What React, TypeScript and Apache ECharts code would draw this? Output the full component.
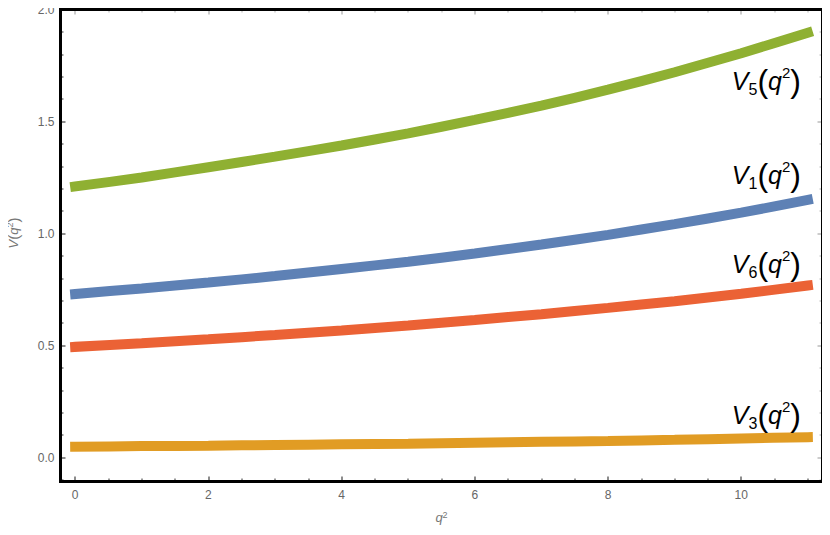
import React, { useEffect, useRef } from "react";
import * as echarts from "echarts";

const xs = [0, 1, 2, 3, 4, 5, 6, 7, 8, 9, 10, 11];
const v5 = [1.21, 1.25, 1.296, 1.343, 1.393, 1.447, 1.507, 1.571, 1.642, 1.72, 1.805, 1.896];
const v1 = [0.73, 0.755, 0.781, 0.81, 0.842, 0.874, 0.911, 0.951, 0.994, 1.042, 1.093, 1.15];
const v6 = [0.494, 0.51, 0.528, 0.547, 0.567, 0.589, 0.614, 0.64, 0.668, 0.698, 0.731, 0.768];
const v3 = [0.048, 0.051, 0.053, 0.056, 0.059, 0.062, 0.066, 0.07, 0.074, 0.079, 0.085, 0.091];

const seriesNames = ["V5", "V1", "V6", "V3"];
const seriesIdx = ["5", "1", "6", "3"];
const seriesColors = ["#8FB032", "#5E81B5", "#EB6235", "#E19C24"];
const seriesValues = [v5, v1, v6, v3];
const labelY = [81, 175, 264, 415];

const majorX = [0, 2, 4, 6, 8, 10];
const minorX = [0.5, 1, 1.5, 2.5, 3, 3.5, 4.5, 5, 5.5, 6.5, 7, 7.5, 8.5, 9, 9.5, 10.5, 11];
const majorY = [0, 0.5, 1, 1.5, 2];
const minorY = [-0.1, 0.1, 0.2, 0.3, 0.4, 0.6, 0.7, 0.8, 0.9, 1.1, 1.2, 1.3, 1.4, 1.6, 1.7, 1.8, 1.9];

const X_MIN = -0.22;
const X_MAX = 11.22;
const Y_MIN = -0.107;
const Y_MAX = 2.0;

const FONT = "'Liberation Sans', Arial, sans-serif";
const GRID = { left: 60.5, right: 7.5, top: 9.5, bottom: 53.5 };

function axis(kind: "x" | "y", position: string, ticks: number[], len: number, tickColor: string, labels: number[] | null, extra: any = {}) {
  const a: any = {
    type: "value",
    position,
    min: kind === "x" ? X_MIN : Y_MIN,
    max: kind === "x" ? X_MAX : Y_MAX,
    axisLine: { show: false, onZero: false },
    axisTick: { show: true, inside: true, length: len, customValues: ticks, lineStyle: { color: tickColor, width: 1.5 } },
    axisLabel: labels
      ? {
          show: true,
          customValues: labels,
          color: "#666",
          fontSize: 12,
          fontFamily: FONT,
          margin: kind === "x" ? 7 : 6,
          formatter: (v: number) => (kind === "y" ? v.toFixed(1) : String(v)),
        }
      : { show: false },
    splitLine: { show: false },
    minorTick: { show: false },
    ...extra,
  };
  return a;
}

export default function App() {
  const ref = useRef<HTMLDivElement>(null);
  useEffect(() => {
    if (!ref.current) return;
    const chart = echarts.init(ref.current, undefined, { renderer: "svg" });
    const nameRich = {
      i: { fontStyle: "italic", fontSize: 13, color: "#777", fill: "#777", fontFamily: FONT },
      n: { fontSize: 15, color: "#777", fill: "#777", fontFamily: FONT },
      s: { fontSize: 9, verticalAlign: "top", color: "#777", fill: "#777", fontFamily: FONT },
    };
    const labelRich = {
      v: { fontStyle: "italic", fontSize: 25, fill: "#000", fontFamily: FONT },
      s: { fontSize: 16, verticalAlign: "bottom", fill: "#000", fontFamily: FONT },
      p: { fontSize: 32, fill: "#000", fontFamily: FONT },
      u: { fontSize: 15, verticalAlign: "top", fill: "#000", fontFamily: FONT },
    };
    const W = 830;
    const H = 535;
    chart.setOption({
      animation: false,
      backgroundColor: "#fff",
      grid: { ...GRID },
      xAxis: [
        axis("x", "bottom", majorX, 5, "#666", majorX, {
          name: "{i|q}{s|2}",
          nameLocation: "middle",
          nameGap: 29,
          nameTextStyle: { rich: nameRich },
        }),
        axis("x", "bottom", minorX, 3, "#777", null),
        axis("x", "top", majorX, 5, "#bbb", null),
        axis("x", "top", minorX, 3, "#ccc", null),
      ],
      yAxis: [
        axis("y", "left", majorY, 5, "#666", majorY),
        axis("y", "left", minorY, 3, "#777", null),
        axis("y", "right", majorY, 5, "#bbb", null),
        axis("y", "right", minorY, 3, "#ccc", null),
      ],
      series: seriesValues.map((vals, k) => ({
        name: seriesNames[k],
        type: "line",
        xAxisIndex: 0,
        yAxisIndex: 0,
        showSymbol: false,
        smooth: 0.2,
        data: xs.map((x, i) => [x, vals[i]]),
        lineStyle: { color: seriesColors[k], width: 10, cap: "square" },
        itemStyle: { color: seriesColors[k] },
        z: 2,
      })),
      graphic: [
        {
          type: "rect",
          z: 100,
          silent: true,
          shape: { x: GRID.left, y: GRID.top, width: W - GRID.left - GRID.right, height: H - GRID.top - GRID.bottom },
          style: { fill: "none", stroke: "#000", lineWidth: 3 },
        },
        {
          type: "text",
          x: 13,
          y: 233,
          rotation: Math.PI / 2,
          z: 10,
          style: {
            text: "{i|V}{n|(}{i|q}{s|2}{n|)}",
            rich: nameRich,
            align: "center",
            verticalAlign: "middle",
          },
        },
        ...seriesIdx.map((s, k) => ({
          type: "text",
          x: 801,
          y: labelY[k],
          z: 10,
          style: {
            text: `{v|V}{s|${s}}{p|(}{v|q}{u|2}{p|)}`,
            rich: labelRich,
            align: "right",
            verticalAlign: "middle",
          },
        })),
      ],
    });
    return () => chart.dispose();
  }, []);
  return <div ref={ref} style={{ width: 830, height: 535, margin: -8 }} />;
}
